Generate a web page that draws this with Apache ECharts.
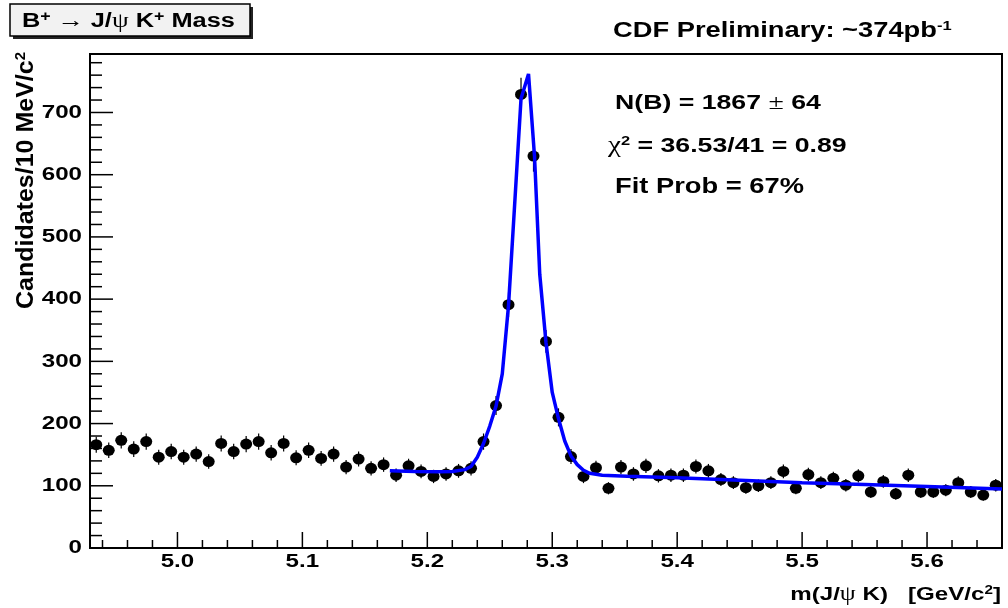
<!DOCTYPE html>
<html><head><meta charset="utf-8">
<script src="https://cdn.jsdelivr.net/npm/echarts@6/dist/echarts.min.js"></script>
<style>html,body{margin:0;padding:0;background:#fff}#c{width:1008px;height:608px}</style>
</head><body><div id="c"></div>
<script>
// ---- data ----
const massBins = [4.935, 4.945, 4.955, 4.965, 4.975, 4.985, 4.995, 5.005, 5.015, 5.025,
  5.035, 5.045, 5.055, 5.065, 5.075, 5.085, 5.095, 5.105, 5.115, 5.125,
  5.135, 5.145, 5.155, 5.165, 5.175, 5.185, 5.195, 5.205, 5.215, 5.225,
  5.235, 5.245, 5.255, 5.265, 5.275, 5.285, 5.295, 5.305, 5.315, 5.325,
  5.335, 5.345, 5.355, 5.365, 5.375, 5.385, 5.395, 5.405, 5.415, 5.425,
  5.435, 5.445, 5.455, 5.465, 5.475, 5.485, 5.495, 5.505, 5.515, 5.525,
  5.535, 5.545, 5.555, 5.565, 5.575, 5.585, 5.595, 5.605, 5.615, 5.625,
  5.635, 5.645, 5.655];
const candidates = [166, 157, 173, 159, 171, 146, 155, 146, 151, 139,
  168, 155, 167, 171, 153, 168, 145, 157, 144, 151,
  130, 143, 128, 134, 117, 132, 123, 115, 119, 124,
  128, 171, 229, 391, 729, 630, 332, 210, 147, 115,
  129, 96, 130, 119, 132, 116, 117, 117, 131, 124,
  110, 105, 97, 100, 105, 123, 96, 118, 105, 112,
  101, 116, 90, 107, 87, 117, 90, 90, 93, 105,
  90, 85, 101];
const fitMass = [5.17, 5.19, 5.21, 5.22, 5.23, 5.235, 5.24, 5.245, 5.25, 5.255,
  5.26, 5.265, 5.27, 5.275, 5.281, 5.2858, 5.29, 5.295, 5.30, 5.305,
  5.31, 5.315, 5.32, 5.325, 5.33, 5.34, 5.36, 5.40, 5.45, 5.50,
  5.55, 5.60, 5.66];
const fitValue = [124, 123, 122.5, 123, 126, 131, 146, 168, 196, 228,
  280, 390, 555, 722, 762, 630, 440, 330, 250, 208,
  172, 148, 134, 125, 120, 117, 115.5, 113, 109, 105,
  102, 99, 95];
const xTickLabels = ['5.0', '5.1', '5.2', '5.3', '5.4', '5.5', '5.6'];
const yTickLabels = ['0', '100', '200', '300', '400', '500', '600', '700'];
const xRange = [4.93, 5.66];
const yRange = [0, 794];
const xMinorStep = 0.02, yMinorStep = 20;

// ---- style ----
const FONT = '"Liberation Sans", Arial, Helvetica, sans-serif';
const SYM = '"Liberation Serif", "DejaVu Serif", serif';
const SX = 1.27; // horizontal stretch of the reference text

const tickItems = [];
xTickLabels.forEach(l => tickItems.push([parseFloat(l), yRange[0], 0, l]));
for (let v = xRange[0] + 0.01; v < xRange[1]; v += xMinorStep) {
  const r = Math.round(v * 100) / 100;
  if (Math.abs(r * 10 - Math.round(r * 10)) > 1e-6) tickItems.push([r, yRange[0], 1, '']);
}
yTickLabels.forEach(l => tickItems.push([xRange[0], parseFloat(l), 2, l]));
for (let v = yMinorStep; v < yRange[1]; v += yMinorStep) {
  if (v % 100 !== 0) tickItems.push([xRange[0], v, 3, '']);
}

function tickRender(params, api) {
  const kind = api.value(2);
  const p = api.coord([api.value(0), api.value(1)]);
  const label = tickItems[params.dataIndex][3];
  const children = [];
  if (kind === 0 || kind === 1) {
    const len = kind === 0 ? 16 : 8;
    children.push({ type: 'line', shape: { x1: p[0], y1: p[1], x2: p[0], y2: p[1] - len },
      style: { stroke: '#000', lineWidth: 1.5 } });
    if (kind === 0) children.push({ type: 'text', x: p[0], y: 562, scaleX: SX,
      style: { text: label, fill: '#000', fontSize: 19, fontWeight: 'bold', fontFamily: FONT,
        align: 'center', verticalAlign: 'middle', textAlign: 'center', textVerticalAlign: 'middle' } });
  } else {
    const len = kind === 2 ? 23 : 12;
    children.push({ type: 'line', shape: { x1: p[0], y1: p[1], x2: p[0] + len, y2: p[1] },
      style: { stroke: '#000', lineWidth: 1.5 } });
    if (kind === 2) children.push({ type: 'text', x: 82, y: p[1], scaleX: SX,
      style: { text: label, fill: '#000', fontSize: 19, fontWeight: 'bold', fontFamily: FONT,
        align: 'right', verticalAlign: 'middle', textAlign: 'right', textVerticalAlign: 'middle' } });
  }
  return { type: 'group', children };
}

function errRender(params, api) {
  const x = api.value(0), v = api.value(1), e = Math.sqrt(v);
  const a = api.coord([x, v + e]), b = api.coord([x, v - e]);
  return { type: 'line', shape: { x1: a[0], y1: a[1], x2: b[0], y2: b[1] },
    style: { stroke: '#000', lineWidth: 1.2 } };
}

const rb = (size) => ({ fontSize: size, fontWeight: 'bold', fontFamily: FONT, fill: '#000', color: '#000' });
const rsup = (size) => ({ fontSize: size, fontWeight: 'bold', fontFamily: FONT, fill: '#000', color: '#000', verticalAlign: 'top' });
const rsym = (size) => ({ fontSize: size, fontFamily: SYM, fill: '#000', color: '#000' });

function richText(x, y, text, rich, align, extra) {
  return Object.assign({ type: 'text', x: x, y: y, scaleX: SX, z: 10,
    style: { text: text, rich: rich, fill: '#000', fontSize: 20, fontWeight: 'bold', fontFamily: FONT,
      align: align, verticalAlign: 'middle', textAlign: align, textVerticalAlign: 'middle' } }, extra || {});
}

const chart = echarts.init(document.getElementById('c'), null, { renderer: 'canvas' });
chart.setOption({
  animation: false,
  backgroundColor: '#fff',
  grid: { left: 90, top: 54, right: 6, bottom: 60, show: true, borderColor: '#000', borderWidth: 2, backgroundColor: 'transparent' },
  xAxis: { type: 'value', min: xRange[0], max: xRange[1], axisLine: { show: false }, axisTick: { show: false },
    axisLabel: { show: false }, splitLine: { show: false } },
  yAxis: { type: 'value', min: yRange[0], max: yRange[1], axisLine: { show: false }, axisTick: { show: false },
    axisLabel: { show: false }, splitLine: { show: false } },
  series: [
    { type: 'custom', name: 'ticks', renderItem: tickRender, data: tickItems.map(t => [t[0], t[1], t[2]]), z: 5, silent: true, clip: false },
    { type: 'custom', name: 'errors', renderItem: errRender, data: massBins.map((m, i) => [m, candidates[i]]), z: 2, silent: true },
    { type: 'scatter', name: 'data', data: massBins.map((m, i) => [m, candidates[i]]), symbol: 'circle', symbolSize: [12, 11],
      itemStyle: { color: '#000', opacity: 1 }, z: 3, silent: true },
    { type: 'line', name: 'fit', data: fitMass.map((m, i) => [m, fitValue[i]]), showSymbol: false, smooth: false,
      lineStyle: { color: '#0000ff', width: 3.5 }, z: 4, silent: true }
  ],
  graphic: [
    { type: 'rect', shape: { x: 13, y: 7, width: 240, height: 32 }, style: { fill: '#222' } },
    { type: 'rect', shape: { x: 10, y: 4, width: 240, height: 32 }, style: { fill: '#f2f2f2', stroke: '#000', lineWidth: 1.5 } },
    richText(22, 21, '{b|B}{s|+}{y| \u2192 }{b|J/}{y|\u03c8}{b| K}{s|+}{b| Mass}',
      { b: rb(20), s: rsup(14), y: rsym(21) }, 'left'),
    richText(613, 31, '{b|CDF Preliminary: ~374pb}{s|-1}', { b: rb(21.5), s: rsup(13) }, 'left'),
    richText(615, 103, '{b|N(B) = 1867 }{y|\u00b1}{b| 64}', { b: rb(21), y: rsym(22) }, 'left'),
    richText(608, 146, '{y|\u03c7}{s|2}{b| = 36.53/41 = 0.89}', { b: rb(21), y: rsym(23), s: rsup(13) }, 'left'),
    richText(615, 187, '{b|Fit Prob = 67%}', { b: rb(21.5) }, 'left'),
    richText(1001, 595, '{b|m(J/}{y|\u03c8}{b| K)   [GeV/c}{s|2}{b|]}', { b: rb(19), y: rsym(20), s: rsup(12) }, 'right'),
    Object.assign(richText(26, 52, '{b|Candidates/10 MeV/c}{s|2}', { b: rb(20), s: rsup(12) }, 'right'),
      { rotation: Math.PI / 2, scaleX: 1.25, scaleY: 1.2 })
  ]
});
</script></body></html>
